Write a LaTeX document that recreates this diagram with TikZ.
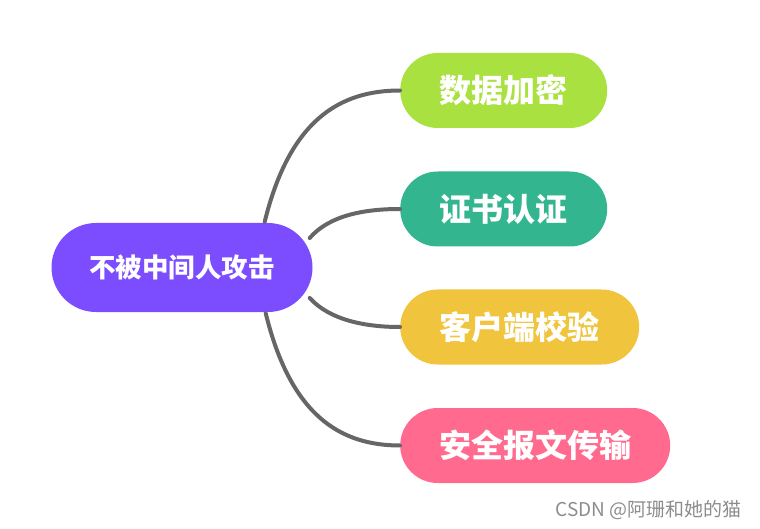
\documentclass[tikz,border=0pt]{standalone}
\usepackage{fontspec}
\setmainfont{Noto Sans CJK SC}
\definecolor{mmpurple}{HTML}{7C4DFF}
\definecolor{mmgreen}{HTML}{A8E140}
\definecolor{mmteal}{HTML}{33B68F}
\definecolor{mmyellow}{HTML}{F0C43C}
\definecolor{mmpink}{HTML}{FF6A8E}
\definecolor{mmgray}{HTML}{666666}
\definecolor{mmcredit}{HTML}{8C8C8C}

\begin{document}
\begin{tikzpicture}[x=1pt,y=-1pt,
  topic/.style={rectangle,rounded corners=37.5pt,minimum height=75pt,inner sep=0pt,
    text=white,font=\bfseries\fontsize{32}{32}\selectfont,anchor=west},
  centre/.style={rectangle,rounded corners=44.5pt,minimum height=89pt,minimum width=261pt,
    inner sep=0pt,fill=mmpurple,text=white,font=\bfseries\fontsize{26.5}{26.5}\selectfont},
  branch/.style={draw=mmgray,line width=4pt,line cap=round},
  credit/.style={text=mmcredit,font=\fontsize{19}{19}\selectfont,anchor=east}]
\useasboundingbox (0,0) rectangle (760,529);
% centre topic
\node[centre] (root) at (182,267.5) {不被中间人攻击};
% four sub topics
\node[topic,fill=mmgreen,minimum width=207pt] (enc) at (400,90.5) {数据加密};
\node[topic,fill=mmteal,minimum width=207pt] (cert) at (400,209) {证书认证};
\node[topic,fill=mmyellow,minimum width=239pt] (client) at (400,327) {客户端校验};
\node[topic,fill=mmpink,minimum width=270pt] (trans) at (400,445.5) {安全报文传输};
% branches
\draw[branch] ([shift={(-48,-1)}]root.north east) .. controls +(25,-102) and +(-60,0) .. (enc.west);
\draw[branch] ([shift={(-3,-29.5)}]root.east) .. controls +(20,-23) and +(-35,0) .. (cert.west);
\draw[branch] ([shift={(-3,30.5)}]root.east) .. controls +(20,22) and +(-35,0) .. (client.west);
\draw[branch] ([shift={(-47,1)}]root.south east) .. controls +(25,102) and +(-60,0) .. (trans.west);
\node[credit] (note) at (745,510) {CSDN @阿珊和她的猫};
\end{tikzpicture}
\end{document}
